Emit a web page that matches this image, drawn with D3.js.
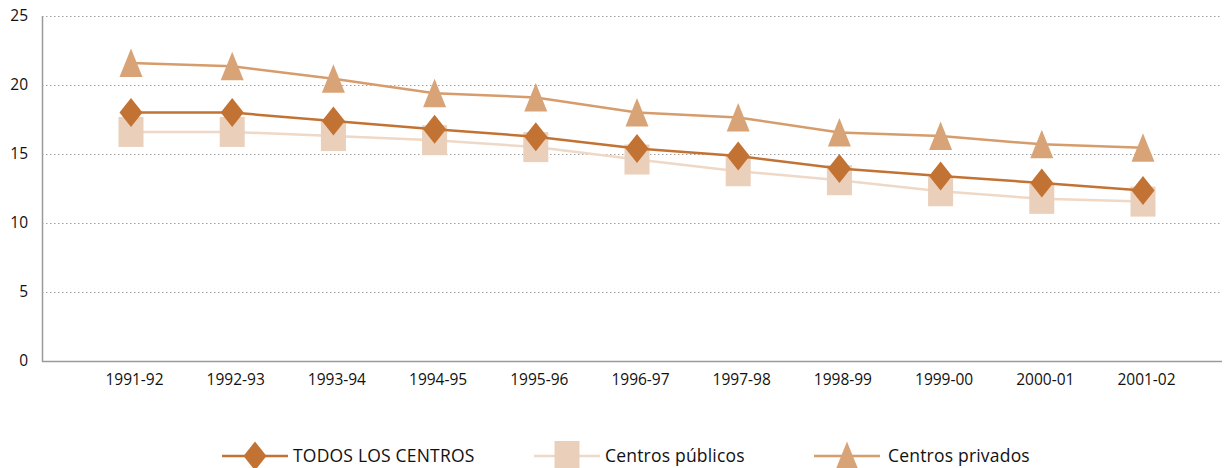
<!DOCTYPE html>
<html><head><meta charset="utf-8">
<script src="https://cdn.jsdelivr.net/npm/d3@7"></script>
<style>
html,body{margin:0;padding:0;background:#fff;}
svg{display:block;}
text{font-family:"Open Sans","Noto Sans",sans-serif;fill:#111;}
</style></head>
<body>
<svg id="chart" width="1225" height="468"></svg>
<script>
const categories = ["1991-92","1992-93","1993-94","1994-95","1995-96","1996-97","1997-98","1998-99","1999-00","2000-01","2001-02"];
const todos    = [18.0, 18.0, 17.4, 16.8, 16.25, 15.4, 14.85, 13.95, 13.4, 12.9, 12.35];
const publicos = [16.6, 16.6, 16.3, 16.0, 15.5, 14.6, 13.75, 13.1, 12.3, 11.75, 11.55];
const privados = [21.6, 21.35, 20.45, 19.4, 19.1, 18.0, 17.65, 16.55, 16.3, 15.7, 15.45];
const yTicks = [0, 5, 10, 15, 20, 25];
const seriesNames = ["TODOS LOS CENTROS", "Centros públicos", "Centros privados"];

const svg = d3.select("#chart");
const x0 = 42, x1 = 1222, yTop = 16, yBot = 361;
const x = d3.scalePoint().domain(categories).range([131, 1143]);
const y = d3.scaleLinear().domain([0, 25]).range([yBot, yTop]);

// grid
svg.append("g").selectAll("line").data(yTicks.filter(d => d > 0)).join("line")
  .attr("x1", x0).attr("x2", x1)
  .attr("y1", d => y(d) + 0.5).attr("y2", d => y(d) + 0.5)
  .attr("stroke", "#a0a0a0").attr("stroke-width", 1).attr("stroke-dasharray", "1.5,2.5");

// axes
const yAxis = svg.append("g").attr("transform", `translate(${x0},0)`)
  .call(d3.axisLeft(y).tickValues(yTicks).tickSize(0).tickPadding(14));
yAxis.select(".domain").remove();
yAxis.selectAll("text").style("font-size", "15.5px").attr("fill", "#111").attr("dy", "0.32em");

const xAxis = svg.append("g").attr("transform", `translate(0,${yBot})`)
  .call(d3.axisBottom(x).tickSize(0).tickPadding(13));
xAxis.select(".domain").remove();
xAxis.selectAll("text").style("font-size", "15.5px").attr("fill", "#111").attr("dx", "3");

svg.append("line").attr("x1", x0 + 0.5).attr("x2", x0 + 0.5).attr("y1", yTop).attr("y2", yBot + 1)
  .attr("stroke", "#9a9a9a").attr("stroke-width", 1.5);
svg.append("line").attr("x1", x0).attr("x2", x1).attr("y1", yBot + 0.5).attr("y2", yBot + 0.5)
  .attr("stroke", "#9a9a9a").attr("stroke-width", 1.5);

const colTodos = "#c27232", colPubMark = "#eacfba", colPubLine = "#efd8c6", colPriv = "#d8a477", colPrivLine = "#d69c6c";

const line = d3.line().x((d, i) => x(categories[i])).y(d => y(d));

function rect(g, cx, cy) {
  g.append("rect").attr("x", cx - 12.5).attr("y", cy - 15).attr("width", 25).attr("height", 30).attr("fill", colPubMark);
}
function diamond(g, cx, cy) {
  g.append("path").attr("d", `M${cx},${cy - 14.5}L${cx + 11.5},${cy}L${cx},${cy + 14.5}L${cx - 11.5},${cy}Z`).attr("fill", colTodos);
}
function triangle(g, cx, cy) {
  g.append("path").attr("d", `M${cx},${cy - 14.5}L${cx + 11.5},${cy + 14}L${cx - 11.5},${cy + 14}Z`).attr("fill", colPriv);
}

const gPub = svg.append("g");
const gPriv = svg.append("g");
const gTod = svg.append("g");

gPub.append("path").datum(publicos).attr("d", line).attr("fill", "none").attr("stroke", colPubLine).attr("stroke-width", 2.5);
publicos.forEach((v, i) => rect(gPub, x(categories[i]), y(v)));

gPriv.append("path").datum(privados).attr("d", line).attr("fill", "none").attr("stroke", colPrivLine).attr("stroke-width", 2.5);
privados.forEach((v, i) => triangle(gPriv, x(categories[i]), y(v)));

gTod.append("path").datum(todos).attr("d", line).attr("fill", "none").attr("stroke", colTodos).attr("stroke-width", 2.5);
todos.forEach((v, i) => diamond(gTod, x(categories[i]), y(v)));

// legend
const ly = 456;
const legendItems = [
  {name: seriesNames[0], cx: 255, tx: 293, lc: colTodos, draw: diamond},
  {name: seriesNames[1], cx: 567, tx: 605, lc: colPubLine, draw: rect},
  {name: seriesNames[2], cx: 847, tx: 888, lc: colPrivLine, draw: triangle}
];
legendItems.forEach(it => {
  const g = svg.append("g");
  g.append("line").attr("x1", it.cx - 33).attr("x2", it.cx + 33).attr("y1", ly).attr("y2", ly)
    .attr("stroke", it.lc).attr("stroke-width", 2.5);
  it.draw(g, it.cx, ly);
  g.append("text").attr("x", it.tx).attr("y", ly).attr("dy", "0.35em")
    .style("font-size", "17.5px").style("letter-spacing", "0.2px").text(it.name);
});
</script>
</body></html>
